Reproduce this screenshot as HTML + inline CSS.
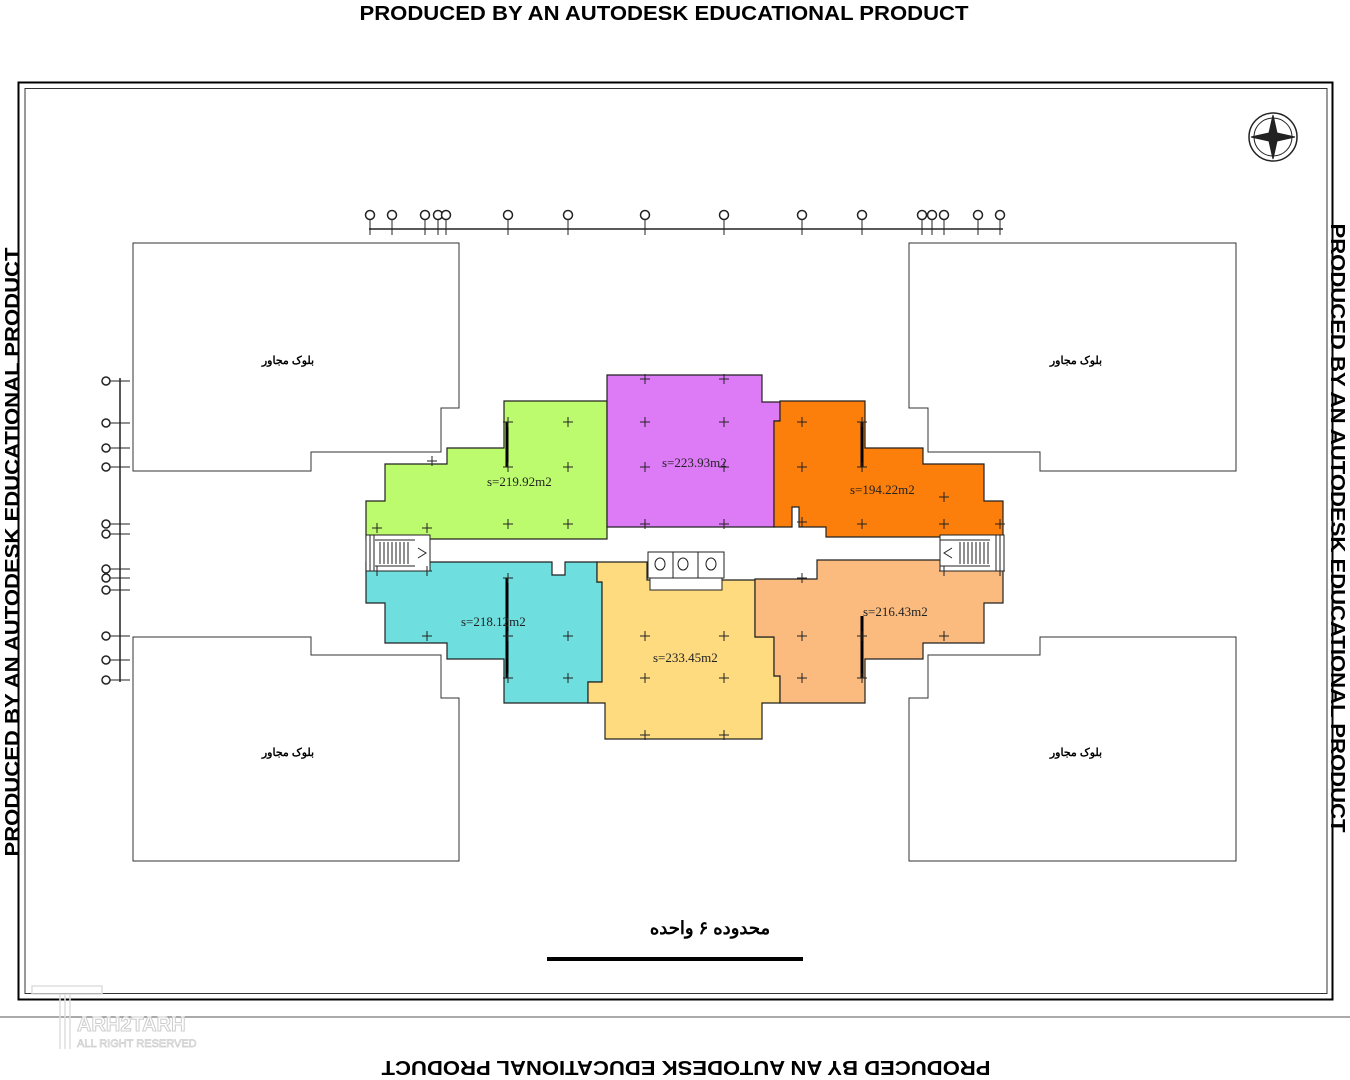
<!DOCTYPE html>
<html><head><meta charset="utf-8"><style>
html,body{margin:0;padding:0;background:#fff;width:1350px;height:1080px;overflow:hidden}
svg{display:block}
text{font-family:"Liberation Sans",sans-serif}
text.serif{font-family:"Liberation Serif",serif}
</style></head><body>
<svg width="1350" height="1080" viewBox="0 0 1350 1080" xmlns="http://www.w3.org/2000/svg">
<text x="664" y="20" text-anchor="middle" font-weight="bold" font-size="20" textLength="609" lengthAdjust="spacingAndGlyphs">PRODUCED BY AN AUTODESK EDUCATIONAL PRODUCT</text>
<text transform="translate(686,1061) rotate(180)" x="0" y="0" text-anchor="middle" font-weight="bold" font-size="20" textLength="609" lengthAdjust="spacingAndGlyphs">PRODUCED BY AN AUTODESK EDUCATIONAL PRODUCT</text>
<text transform="translate(19,552) rotate(-90)" text-anchor="middle" font-weight="bold" font-size="20" textLength="609" lengthAdjust="spacingAndGlyphs">PRODUCED BY AN AUTODESK EDUCATIONAL PRODUCT</text>
<text transform="translate(1331,528) rotate(90)" text-anchor="middle" font-weight="bold" font-size="20" textLength="609" lengthAdjust="spacingAndGlyphs">PRODUCED BY AN AUTODESK EDUCATIONAL PRODUCT</text>

<rect x="18.5" y="82.5" width="1314" height="917" fill="none" stroke="#000" stroke-width="2"/>
<rect x="25" y="88.5" width="1302" height="905" fill="none" stroke="#333" stroke-width="1"/>
<line x1="0" y1="1017" x2="1350" y2="1017" stroke="#555" stroke-width="1"/>

<g fill="none" stroke="#333" stroke-width="1">
<path d="M133,243 H459 V408 H441 V452 H311 V471 H133 Z"/>
<path d="M1236,243 H909 V408 H928 V452 H1040 V471 H1236 Z"/>
<path d="M133,637 H311 V655 H441 V698 H459 V861 H133 Z"/>
<path d="M1236,637 H1040 V655 H928 V698 H909 V861 H1236 Z"/>
</g>
<g font-size="11" text-anchor="middle" fill="#000" font-weight="bold">
<text x="288" y="364">بلوک مجاور</text>
<text x="1076" y="364">بلوک مجاور</text>
<text x="288" y="756">بلوک مجاور</text>
<text x="1076" y="756">بلوک مجاور</text>
</g>

<g stroke="#222" stroke-width="1.2">
<path fill="#bdfb6e" d="M366,539 V501 H385 V464 H447 V448 H504 V401 H607 V539 Z"/>
<path fill="#dd7bf6" d="M607,375 H762 V402 H780 V421 H774 V527 H607 Z"/>
<path fill="#fb7f0a" d="M780,401 H865 V448 H923 V464 H984 V501 H1003 V537 H826 V527 H799 V507 H792 V527 H774 V421 H780 Z"/>
<path fill="#6edede" d="M366,562 H552 V575 H565 V562 H597 V582 H602 V682 H588 V703 H504 V659 H447 V643 H385 V603 H366 Z"/>
<path fill="#fedb7f" d="M597,562 H647 V580 H755 V637 H774 V676 H780 V703 H762 V739 H605 V703 H588 V682 H602 V582 H597 Z"/>
<path fill="#fbbb7f" d="M817,560 H1003 V603 H984 V643 H923 V659 H865 V703 H780 V676 H774 V637 H755 V579 H817 Z"/>
</g>
<g stroke="#000" stroke-width="3">
<line x1="507" y1="422" x2="507" y2="467"/>
<line x1="862" y1="422" x2="862" y2="467"/>
<line x1="507" y1="578" x2="507" y2="678"/>
<line x1="862" y1="616" x2="862" y2="678"/>
</g>
<g stroke="#222" fill="#fff" stroke-width="1">
<rect x="366" y="535" width="64" height="36"/>
<rect x="940" y="535" width="64" height="36"/>
<rect x="648" y="552" width="76" height="26"/>
<rect x="650" y="578" width="72" height="12"/>
</g>
<g stroke="#222" stroke-width="1">
<path d="M370,535 v36 M374,535 v36 M996,535 v36 M1000,535 v36"/>
<path d="M375,540 h40 M375,566 h40 M940,540 h50 M940,566 h50"/>
<path d="M380,542 v22 M384,542 v22 M388,542 v22 M392,542 v22 M396,542 v22 M400,542 v22 M404,542 v22 M408,542 v22"/>
<path d="M960,542 v22 M964,542 v22 M968,542 v22 M972,542 v22 M976,542 v22 M980,542 v22 M984,542 v22 M988,542 v22"/>
<path d="M418,548 l8,5 l-8,5 M952,548 l-8,5 l8,5" fill="none"/>
<path d="M673,552 v26 M698,552 v26" fill="none"/>
</g>
<g fill="none" stroke="#222" stroke-width="1">
<ellipse cx="660" cy="564" rx="5" ry="6"/><ellipse cx="683" cy="564" rx="5" ry="6"/><ellipse cx="711" cy="564" rx="5" ry="6"/>
</g>
<g stroke="#222" stroke-width="1" fill="none">
<path d="
M427,461h10m-5,-5v10 M503,422h10m-5,-5v10 M563,422h10m-5,-5v10 M503,467h10m-5,-5v10 M563,467h10m-5,-5v10 M503,524h10m-5,-5v10 M563,524h10m-5,-5v10 M372,528h10m-5,-5v10 M422,528h10m-5,-5v10
M640,379h10m-5,-5v10 M719,379h10m-5,-5v10 M640,422h10m-5,-5v10 M719,422h10m-5,-5v10 M640,467h10m-5,-5v10 M719,467h10m-5,-5v10 M640,524h10m-5,-5v10 M719,524h10m-5,-5v10
M797,422h10m-5,-5v10 M857,422h10m-5,-5v10 M797,467h10m-5,-5v10 M857,467h10m-5,-5v10 M939,497h10m-5,-5v10 M797,522h10m-5,-5v10 M857,524h10m-5,-5v10 M939,524h10m-5,-5v10 M995,524h10m-5,-5v10
M503,578h10m-5,-5v10 M563,636h10m-5,-5v10 M503,636h10m-5,-5v10 M422,636h10m-5,-5v10 M503,678h10m-5,-5v10 M563,678h10m-5,-5v10 M372,571h10m-5,-5v10 M422,571h10m-5,-5v10
M640,636h10m-5,-5v10 M719,636h10m-5,-5v10 M640,678h10m-5,-5v10 M719,678h10m-5,-5v10 M640,735h10m-5,-5v10 M719,735h10m-5,-5v10
M797,578h10m-5,-5v10 M857,636h10m-5,-5v10 M797,636h10m-5,-5v10 M939,636h10m-5,-5v10 M797,678h10m-5,-5v10 M857,678h10m-5,-5v10 M939,571h10m-5,-5v10 M995,571h10m-5,-5v10"/>
</g>
<g font-size="13" fill="#222">
<text class="serif" x="487" y="486">s=219.92m2</text>
<text class="serif" x="662" y="467">s=223.93m2</text>
<text class="serif" x="850" y="494">s=194.22m2</text>
<text class="serif" x="461" y="626">s=218.12m2</text>
<text class="serif" x="653" y="662">s=233.45m2</text>
<text class="serif" x="863" y="616">s=216.43m2</text>
</g>

<g stroke="#222" stroke-width="1" fill="#fff">
<line x1="369" y1="229" x2="1003" y2="229" stroke-width="1.5"/>
<path d="M370,215v20 M392,215v20 M425,215v20 M438,215v20 M446,215v20 M508,215v20 M568,215v20 M645,215v20 M724,215v20 M802,215v20 M862,215v20 M922,215v20 M932,215v20 M944,215v20 M978,215v20 M1000,215v20"/>
<g stroke-width="1.5">
<circle cx="370" cy="215" r="4.5"/><circle cx="392" cy="215" r="4.5"/><circle cx="425" cy="215" r="4.5"/><circle cx="438" cy="215" r="4.5"/><circle cx="446" cy="215" r="4.5"/><circle cx="508" cy="215" r="4.5"/><circle cx="568" cy="215" r="4.5"/><circle cx="645" cy="215" r="4.5"/><circle cx="724" cy="215" r="4.5"/><circle cx="802" cy="215" r="4.5"/><circle cx="862" cy="215" r="4.5"/><circle cx="922" cy="215" r="4.5"/><circle cx="932" cy="215" r="4.5"/><circle cx="944" cy="215" r="4.5"/><circle cx="978" cy="215" r="4.5"/><circle cx="1000" cy="215" r="4.5"/>
</g>
</g>
<g stroke="#222" stroke-width="1" fill="#fff">
<line x1="120" y1="378" x2="120" y2="682" stroke-width="1.5"/>
<path d="M106,381h24 M106,423h24 M106,448h24 M106,467h24 M106,524h24 M106,534h24 M106,569h24 M106,578h24 M106,590h24 M106,636h24 M106,660h24 M106,680h24"/>
<g stroke-width="1.5">
<circle cx="106" cy="381" r="4"/><circle cx="106" cy="423" r="4"/><circle cx="106" cy="448" r="4"/><circle cx="106" cy="467" r="4"/><circle cx="106" cy="524" r="4"/><circle cx="106" cy="534" r="4"/><circle cx="106" cy="569" r="4"/><circle cx="106" cy="578" r="4"/><circle cx="106" cy="590" r="4"/><circle cx="106" cy="636" r="4"/><circle cx="106" cy="660" r="4"/><circle cx="106" cy="680" r="4"/>
</g>
</g>
<g stroke="#222" fill="none">
<circle cx="1273" cy="137" r="24" stroke-width="1.5"/>
<circle cx="1273" cy="137" r="19"/>
<path d="M1273,115 L1277,133 L1295,137 L1277,141 L1273,159 L1269,141 L1251,137 L1269,133 Z" fill="#222"/>
</g>

<text x="710" y="934" text-anchor="middle" font-size="18" font-weight="bold">محدوده ۶ واحده</text>
<line x1="547" y1="959" x2="803" y2="959" stroke="#000" stroke-width="4"/>

<g fill="none" stroke="#ddd" stroke-width="1.5">
<rect x="32" y="986" width="70" height="8"/>
<path d="M60,994 v55 M65,994 v55 M70,994 v55"/>
</g>
<text x="77" y="1031" font-size="20" font-weight="bold" fill="#fff" stroke="#ccc" stroke-width="1">ARH2TARH</text>
<text x="77" y="1047" font-size="11" fill="#fff" stroke="#ccc" stroke-width="0.7">ALL RIGHT RESERVED</text>
</svg>
</body></html>
